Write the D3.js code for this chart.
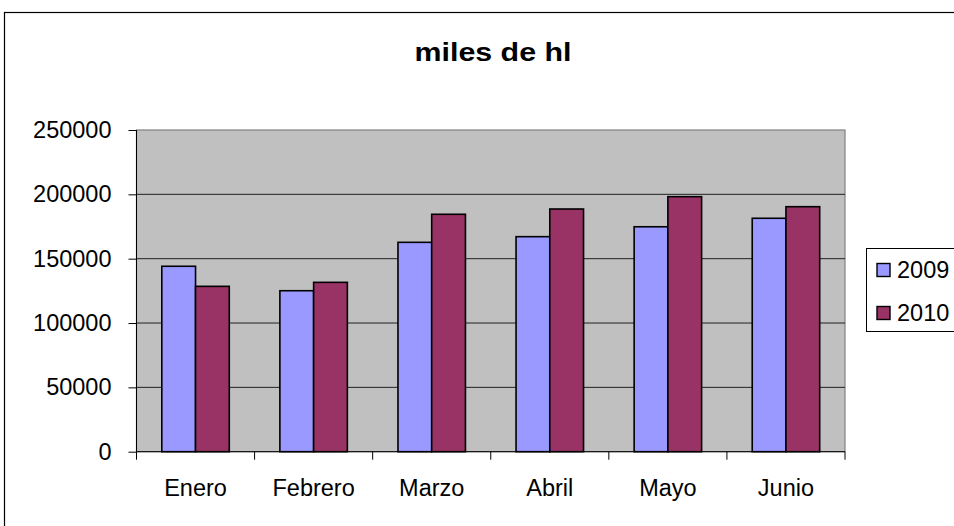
<!DOCTYPE html>
<html>
<head>
<meta charset="utf-8">
<script src="https://cdn.jsdelivr.net/npm/d3@7"></script>
<style>
  body { margin: 0; background: #fff; }
  text { font-family: "Liberation Sans", Arial, sans-serif; }
</style>
</head>
<body>
<svg id="chart" width="954" height="526"></svg>
<script>
var months = ["Enero", "Febrero", "Marzo", "Abril", "Mayo", "Junio"];
var series_names = ["2009", "2010"];
var values_2009 = [144100, 125100, 162700, 167100, 174800, 181400];
var values_2010 = [128500, 131600, 184500, 188600, 198200, 190400];
var y_ticks = [0, 50000, 100000, 150000, 200000, 250000];
var colors = ["#9999ff", "#993366"];

var svg = d3.select("#chart");
var plot = {left: 136.5, top: 130, right: 845, bottom: 451.7};
var font = "Liberation Sans, Arial, sans-serif";

// outer chart frame (runs off the right/bottom edge)
svg.append("rect")
    .attr("x", 4.5).attr("y", 12.5)
    .attr("width", 1000).attr("height", 600)
    .style("fill", "#fff").style("stroke", "#000").style("stroke-width", 1.2);

svg.append("text")
    .attr("x", 493).attr("y", 61)
    .style("text-anchor", "middle")
    .style("font-size", "26px")
    .style("font-weight", "bold")
    .attr("textLength", 157)
    .attr("lengthAdjust", "spacingAndGlyphs")
    .text("miles de hl");

var x = d3.scaleBand().domain(months).range([plot.left, plot.right]);
var y = d3.scaleLinear().domain([0, 250000]).range([plot.bottom, plot.top]);
var bar_w = x.bandwidth() / 3.5;

svg.append("rect")
    .attr("x", plot.left).attr("y", plot.top)
    .attr("width", plot.right - plot.left).attr("height", plot.bottom - plot.top)
    .style("fill", "#c0c0c0")
    .style("stroke", "#808080").style("stroke-width", 1.2);

svg.selectAll(".grid")
    .data(y_ticks.slice(1, -1))
  .enter().append("line")
    .attr("class", "grid")
    .attr("x1", plot.left).attr("x2", plot.right)
    .attr("y1", function(d) { return y(d); })
    .attr("y2", function(d) { return y(d); })
    .style("stroke", "#222").style("stroke-width", 1);

var rows = months.map(function(m, i) {
  return {month: m, vals: [values_2009[i], values_2010[i]]};
});

var group = svg.selectAll(".grp")
    .data(rows)
  .enter().append("g")
    .attr("class", "grp");

group.selectAll("rect")
    .data(function(d) { return d.vals.map(function(v, k) { return {month: d.month, v: v, k: k}; }); })
  .enter().append("rect")
    .attr("x", function(d) { return x(d.month) + bar_w * 0.75 + d.k * bar_w; })
    .attr("y", function(d) { return y(d.v); })
    .attr("width", bar_w)
    .attr("height", function(d) { return y(0) - y(d.v); })
    .style("fill", function(d) { return colors[d.k]; })
    .style("stroke", "#000").style("stroke-width", 1.6);

var yAxis = d3.axisLeft(y).tickValues(y_ticks).tickSize(8).tickPadding(17).tickFormat(d3.format("d"));
var gy = svg.append("g")
    .attr("transform", "translate(" + plot.left + ",0)")
    .call(yAxis);
gy.select(".domain").attr("d", "M0," + plot.top + "V" + plot.bottom);
gy.selectAll("text").style("font-size", "23.5px").style("font-family", font);

var xAxis = d3.axisBottom(x).tickSize(0).tickPadding(28);
var gx = svg.append("g")
    .attr("transform", "translate(0," + plot.bottom + ")")
    .call(xAxis);
gx.select(".domain").attr("d", "M" + plot.left + ",0H" + plot.right);
gx.selectAll("text").style("font-size", "23.5px").style("font-family", font);

svg.selectAll(".xtick")
    .data(months.concat(["end"]))
  .enter().append("line")
    .attr("class", "xtick")
    .attr("x1", function(d, i) { return plot.left + i * x.step(); })
    .attr("x2", function(d, i) { return plot.left + i * x.step(); })
    .attr("y1", plot.bottom).attr("y2", plot.bottom + 8)
    .style("stroke", "#000");

// legend
svg.append("rect")
    .attr("x", 866.5).attr("y", 248.5)
    .attr("width", 120).attr("height", 83)
    .style("fill", "#fff").style("stroke", "#000").style("stroke-width", 1);

var leg = svg.selectAll(".leg")
    .data(series_names)
  .enter().append("g")
    .attr("class", "leg")
    .attr("transform", function(d, i) { return "translate(877," + (263.5 + i * 43) + ")"; });

leg.append("rect")
    .attr("width", 13).attr("height", 13)
    .style("fill", function(d, i) { return colors[i]; })
    .style("stroke", "#000").style("stroke-width", 1.4);

leg.append("text")
    .attr("x", 20).attr("y", 14.5)
    .style("font-size", "23.5px")
    .text(function(d) { return d; });
</script>
</body>
</html>
